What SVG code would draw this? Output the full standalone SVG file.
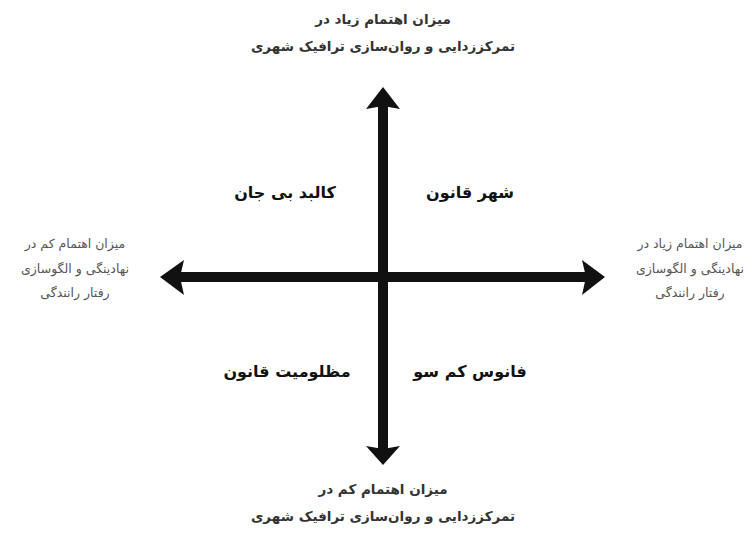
<svg xmlns="http://www.w3.org/2000/svg" width="752" height="533" viewBox="0 0 752 533">
<style>
.t{font-family:"DejaVu Sans","Noto Sans",sans-serif;font-size:13.5px;font-weight:bold;fill:#333;text-anchor:middle;direction:rtl}
.s{font-family:"DejaVu Sans","Noto Sans",sans-serif;font-size:12.5px;fill:#555;text-anchor:middle;direction:rtl}
.q{font-family:"DejaVu Sans","Noto Sans",sans-serif;font-size:16px;font-weight:bold;fill:#111;text-anchor:middle;direction:rtl}
.ax{stroke:#111;stroke-width:10;fill:none}
.hd{fill:#111}
</style>
<rect width="752" height="533" fill="#fff"/>
<g id="connectors">
<line class="ax" x1="383" y1="104" x2="383" y2="450"/>
<line class="ax" x1="178" y1="277" x2="588" y2="277"/>
<polygon class="hd" points="383,87 400,109 383,106 366,109"/>
<polygon class="hd" points="383,465 400,446 383,449 366,446"/>
<polygon class="hd" points="160,277 184,260 180,277 184,295"/>
<polygon class="hd" points="605,277 582,260 586,277 582,295"/>
</g>
<g id="top-label">
<text class="t" x="383" y="24">میزان اهتمام زیاد در</text>
<text class="t" x="383" y="51">تمرکززدایی و روان‌سازی ترافیک شهری</text>
</g>
<g id="bottom-label">
<text class="t" x="383" y="494">میزان اهتمام کم در</text>
<text class="t" x="383" y="521">تمرکززدایی و روان‌سازی ترافیک شهری</text>
</g>
<g id="left-label">
<text class="s" x="75" y="248">میزان اهتمام کم در</text>
<text class="s" x="75" y="273">نهادینگی و الگوسازی</text>
<text class="s" x="75" y="297">رفتار رانندگی</text>
</g>
<g id="right-label">
<text class="s" x="690" y="248">میزان اهتمام زیاد در</text>
<text class="s" x="690" y="273">نهادینگی و الگوسازی</text>
<text class="s" x="690" y="297">رفتار رانندگی</text>
</g>
<g id="q-top-left"><text class="q" x="285" y="198">کالبد بی جان</text></g>
<g id="q-top-right"><text class="q" x="470" y="198">شهر قانون</text></g>
<g id="q-bottom-left"><text class="q" x="287" y="377">مظلومیت قانون</text></g>
<g id="q-bottom-right"><text class="q" x="470" y="377">فانوس کم سو</text></g>
</svg>
